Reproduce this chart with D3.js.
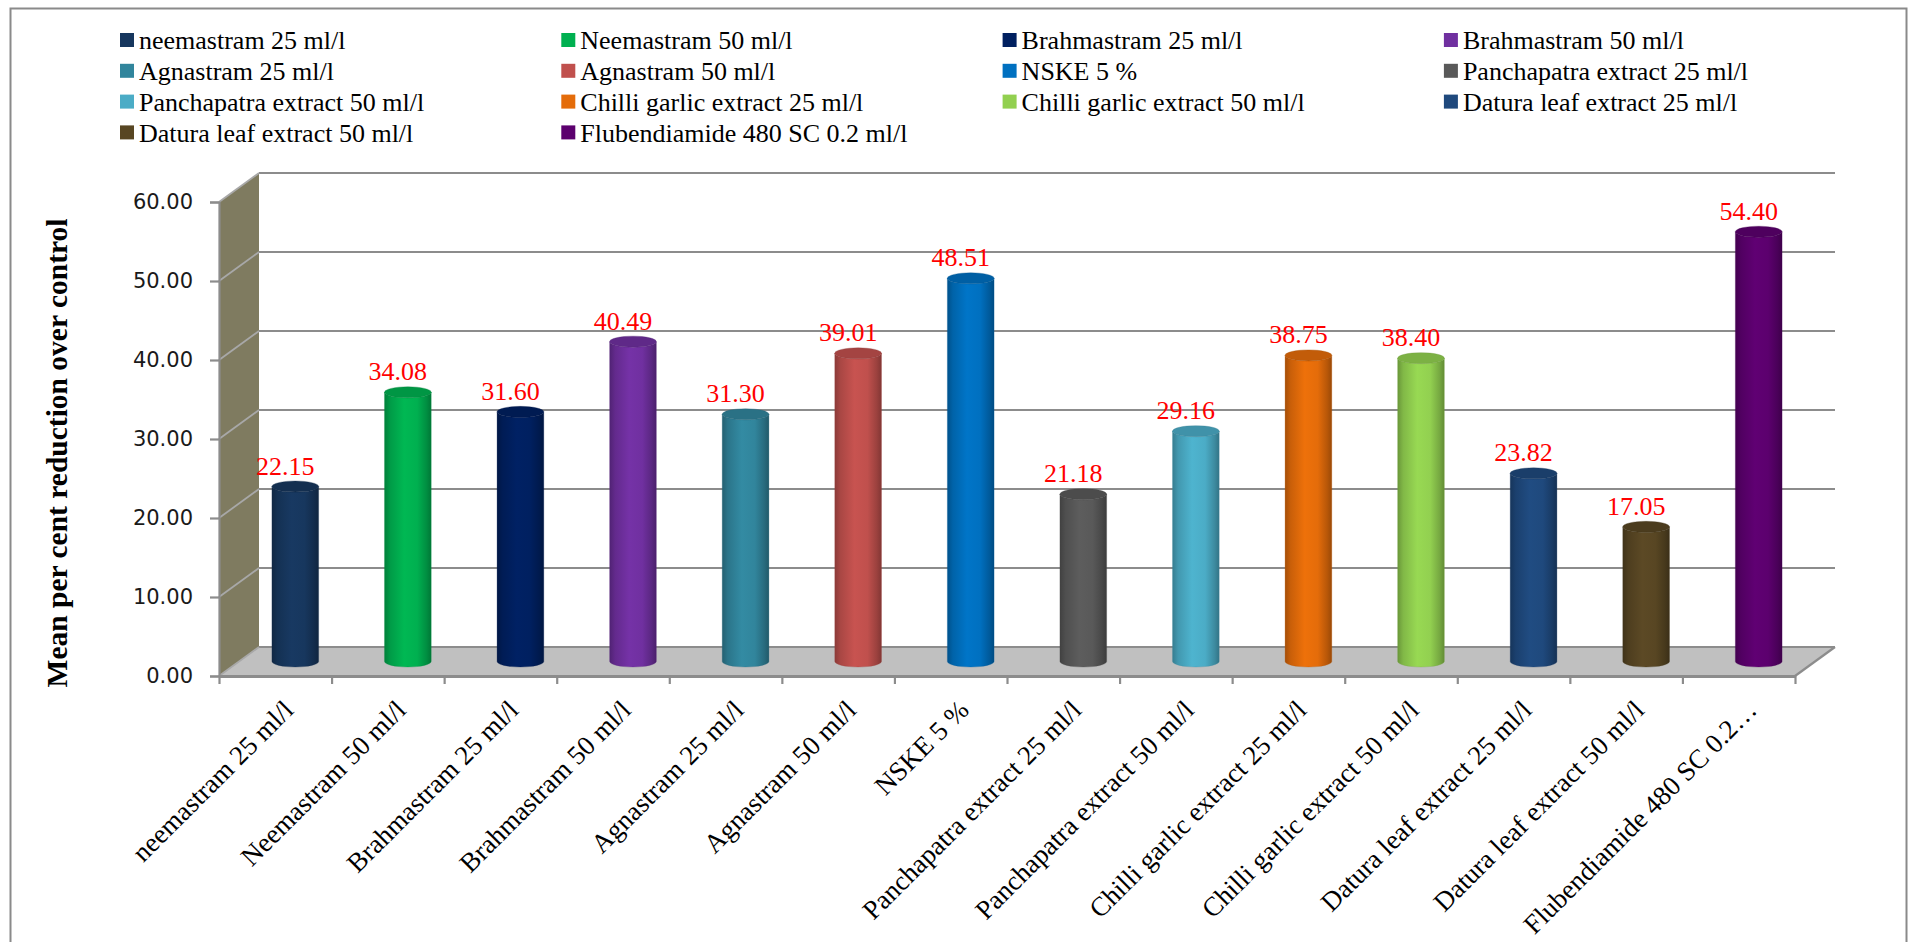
<!DOCTYPE html>
<html>
<head>
<meta charset="utf-8">
<script src="https://cdn.jsdelivr.net/npm/d3@7/dist/d3.min.js"></script>
<style>
  html, body { margin: 0; padding: 0; background: #ffffff; }
  svg { display: block; }
</style>
</head>
<body>
<svg id="chart" width="1915" height="942"></svg>
<script>
// Treatments, in plotting order
const categories = [
  "neemastram 25 ml/l", "Neemastram 50 ml/l", "Brahmastram 25 ml/l", "Brahmastram 50 ml/l",
  "Agnastram 25 ml/l", "Agnastram 50 ml/l", "NSKE 5 %", "Panchapatra extract 25 ml/l",
  "Panchapatra extract 50 ml/l", "Chilli garlic extract 25 ml/l", "Chilli garlic extract 50 ml/l",
  "Datura leaf extract 25 ml/l", "Datura leaf extract 50 ml/l", "Flubendiamide 480 SC 0.2 ml/l"
];

// Mean per cent reduction over control
const values = [22.15, 34.08, 31.60, 40.49, 31.30, 39.01, 48.51, 21.18, 29.16, 38.75, 38.40, 23.82, 17.05, 54.40];

// Category axis text (long names are cut short on the axis)
const tickLabels = [
  "neemastram 25 ml/l", "Neemastram 50 ml/l", "Brahmastram 25 ml/l", "Brahmastram 50 ml/l",
  "Agnastram 25 ml/l", "Agnastram 50 ml/l", "NSKE 5 %", "Panchapatra extract 25 ml/l",
  "Panchapatra extract 50 ml/l", "Chilli garlic extract 25 ml/l", "Chilli garlic extract 50 ml/l",
  "Datura leaf extract 25 ml/l", "Datura leaf extract 50 ml/l", "Flubendiamide 480 SC 0.2\u2026"
];

const barColors = [
  "#17375e", "#00b050", "#002060", "#7030a0", "#31859c", "#c0504d", "#0070c0",
  "#595959", "#4bacc6", "#e46c0a", "#92d050", "#1f497d", "#584623", "#5c006e"
];

const yTicks = [0, 10, 20, 30, 40, 50, 60];

const svg = d3.select("#chart");
const serif = "'Liberation Serif', 'Times New Roman', serif";

// Outer frame
svg.append("rect")
  .attr("x", 10.5).attr("y", 8.5).attr("width", 1896).attr("height", 940)
  .attr("fill", "none").attr("stroke", "#8a8a8a").attr("stroke-width", 2);

// Scales for the front plane of the 3-D box
const x = d3.scaleBand().domain(categories).range([219, 1795]).padding(0);
const xIndex = d3.scaleLinear().domain([0, categories.length]).range([219, 1795]);
const y = d3.scaleLinear().domain([0, 60]).range([676, 202]);

// Depth of the box and where the cylinders sit inside it
const depth = { dx: 40, dy: -29 };
const mid = 0.5;

const g = svg.append("g");

// Back wall
g.append("rect")
  .attr("x", x.range()[0] + depth.dx).attr("y", y(60) + depth.dy)
  .attr("width", x.range()[1] - x.range()[0]).attr("height", y(0) - y(60))
  .attr("fill", "#ffffff");

// Side wall
g.append("polygon")
  .attr("points", [
    [x.range()[0], y(60)],
    [x.range()[0] + depth.dx, y(60) + depth.dy],
    [x.range()[0] + depth.dx, y(0) + depth.dy],
    [x.range()[0], y(0)]
  ].map(p => p.join(",")).join(" "))
  .attr("fill", "#7f7b60");

// Floor
g.append("polygon")
  .attr("points", [
    [x.range()[0], y(0)],
    [x.range()[1], y(0)],
    [x.range()[1] + depth.dx, y(0) + depth.dy],
    [x.range()[0] + depth.dx, y(0) + depth.dy]
  ].map(p => p.join(",")).join(" "))
  .attr("fill", "#c0c0c0");

// Gridlines on the back wall and the side wall
g.selectAll("line.grid-back").data(yTicks).join("line")
  .attr("class", "grid-back")
  .attr("x1", x.range()[0] + depth.dx).attr("x2", x.range()[1] + depth.dx)
  .attr("y1", d => y(d) + depth.dy).attr("y2", d => y(d) + depth.dy)
  .attr("stroke", "#8c8c8c").attr("stroke-width", 2.2);

g.selectAll("line.grid-side").data(yTicks).join("line")
  .attr("class", "grid-side")
  .attr("x1", x.range()[0]).attr("x2", x.range()[0] + depth.dx)
  .attr("y1", d => y(d)).attr("y2", d => y(d) + depth.dy)
  .attr("stroke", "#a8a8a8").attr("stroke-width", 1.8);

// Floor edges
g.append("line")
  .attr("x1", x.range()[1]).attr("y1", y(0))
  .attr("x2", x.range()[1] + depth.dx).attr("y2", y(0) + depth.dy)
  .attr("stroke", "#8c8c8c").attr("stroke-width", 2.2);

// Cylinder shading
const defs = svg.append("defs");
barColors.forEach((c, i) => {
  const base = d3.color(c);
  const grad = defs.append("linearGradient")
    .attr("id", "cyl" + i).attr("x1", "0%").attr("x2", "100%").attr("y1", "0%").attr("y2", "0%");
  const stops = [
    [0, base.darker(0.9)],
    [0.12, base.darker(0.35)],
    [0.42, base.brighter(0.12)],
    [0.7, base],
    [0.9, base.darker(0.6)],
    [1, base.darker(1.1)]
  ];
  stops.forEach(([o, col]) => grad.append("stop").attr("offset", o).attr("stop-color", col.formatHex()));
});

const bw = x.bandwidth() * 0.415;
const rx = bw / 2;
const ry = 5.5;
const bars = categories.map((c, i) => ({ cat: c, value: values[i], i }));
const cx = d => x(d.cat) + x.bandwidth() / 2 + depth.dx * mid;
const yb = () => y(0) + depth.dy * mid;
const yt = d => y(d.value) + depth.dy * mid;

const cyl = g.selectAll("g.bar").data(bars).join("g").attr("class", "bar");

cyl.append("path")
  .attr("d", d => {
    const l = cx(d) - rx, r = cx(d) + rx;
    return `M${l},${yt(d)} L${l},${yb()} A${rx},${ry} 0 0 0 ${r},${yb()} L${r},${yt(d)} A${rx},${ry} 0 0 1 ${l},${yt(d)} Z`;
  })
  .attr("fill", d => `url(#cyl${d.i})`)
  .attr("stroke", d => d3.color(barColors[d.i]).darker(0.6).formatHex())
  .attr("stroke-opacity", 0.35)
  .attr("stroke-width", 0.8);

cyl.append("ellipse")
  .attr("cx", cx).attr("cy", yt)
  .attr("rx", rx).attr("ry", ry)
  .attr("fill", d => d3.color(barColors[d.i]).darker(0.45).formatHex())
  .attr("stroke", d => d3.color(barColors[d.i]).darker(0.9).formatHex())
  .attr("stroke-opacity", 0.4)
  .attr("stroke-width", 0.8);

// Value labels
g.selectAll("text.value").data(bars).join("text")
  .attr("class", "value")
  .attr("x", d => cx(d) - 10)
  .attr("y", d => yt(d) - 12)
  .attr("text-anchor", "middle")
  .attr("font-family", serif)
  .attr("font-size", 26)
  .attr("fill", "#ff0000")
  .text(d => d.value.toFixed(2));

// Value axis
const yAxis = g.append("g")
  .attr("transform", `translate(${x.range()[0]},0)`)
  .call(d3.axisLeft(y).tickValues(yTicks).tickFormat(d3.format(".2f")).tickSize(9).tickPadding(17));
yAxis.select(".domain").attr("stroke", "#8c8c8c").attr("stroke-width", 2.2);
yAxis.selectAll(".tick line").attr("stroke", "#8c8c8c").attr("stroke-width", 2.2);
yAxis.selectAll(".tick text")
  .attr("font-family", "'DejaVu Sans', Verdana, sans-serif")
  .attr("font-size", 21)
  .attr("fill", "#1a1a1a");

// Category axis: boundary ticks along the front edge of the floor
const xTickAxis = g.append("g")
  .attr("transform", `translate(0,${y(0)})`)
  .call(d3.axisBottom(xIndex).tickValues(d3.range(categories.length + 1)).tickFormat("").tickSize(8).tickSizeOuter(0));
xTickAxis.select(".domain").attr("stroke", "#8c8c8c").attr("stroke-width", 3);
xTickAxis.selectAll(".tick line").attr("stroke", "#8c8c8c").attr("stroke-width", 2.2);

// Category labels, slanted
const xAxis = g.append("g")
  .attr("transform", `translate(0,${y(0)})`)
  .call(d3.axisBottom(x).tickSize(0).tickFormat((d, i) => tickLabels[i]));
xAxis.select(".domain").remove();
xAxis.selectAll(".tick text")
  .attr("font-family", serif)
  .attr("font-size", 27)
  .attr("fill", "#000")
  .attr("text-anchor", "end")
  .attr("x", 0).attr("y", 0).attr("dy", "0.35em")
  .attr("transform", "translate(13,29) rotate(-45)");

// Value axis title
svg.append("text")
  .attr("transform", `translate(57,${(y(0) + y(60)) / 2 + 14}) rotate(-90)`)
  .attr("text-anchor", "middle")
  .attr("dy", "0.35em")
  .attr("font-family", serif)
  .attr("font-weight", "bold")
  .attr("font-size", 29.5)
  .attr("fill", "#000")
  .text("Mean per cent reduction over control");

// Legend, four columns, filled row by row
const legendCols = 4;
const legend = svg.append("g");
const item = legend.selectAll("g").data(categories).join("g")
  .attr("transform", (d, i) => `translate(${120 + (i % legendCols) * 441.3},${40 + Math.floor(i / legendCols) * 30.8})`);
item.append("rect")
  .attr("x", 0).attr("y", -7).attr("width", 14).attr("height", 14)
  .attr("fill", (d, i) => barColors[i]);
item.append("text")
  .attr("x", 19).attr("dy", "0.35em")
  .attr("font-family", serif)
  .attr("font-size", 26)
  .attr("fill", "#000")
  .text(d => d);
</script>
</body>
</html>
